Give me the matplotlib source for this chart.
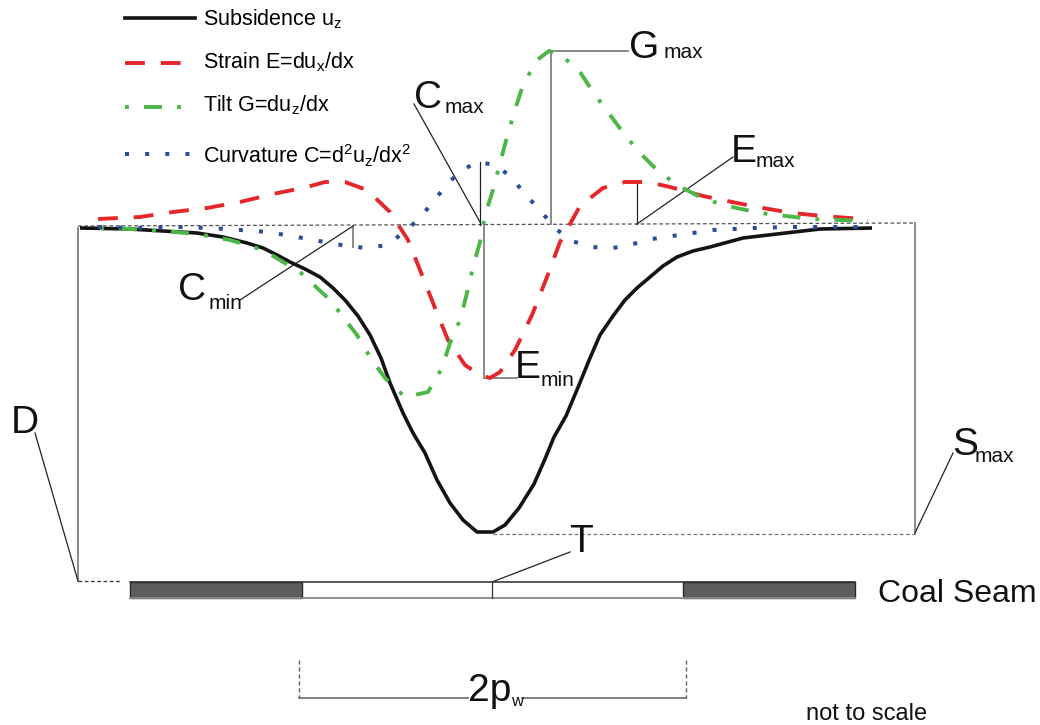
# -*- coding: utf-8 -*-
'''
Subsidence profile sketch
-------------------------
Schematic of subsidence, strain, tilt and curvature over a longwall panel.
Coordinates are read off the original drawing (pixels, y pointing down).
'''

import matplotlib.pyplot as plt
from matplotlib.patches import Rectangle

plt.rcParams['font.family'] = ['Liberation Sans', 'DejaVu Sans']
plt.rcParams['mathtext.fontset'] = 'custom'
plt.rcParams['mathtext.rm'] = 'Liberation Sans'
plt.rcParams['mathtext.it'] = 'Liberation Sans'

### curves
subs_x = [80, 130, 163, 197, 223, 247, 263, 277, 290, 305, 320, 333, 345, 358, 370,
          381, 390, 403, 413, 425, 437, 450, 463, 477, 493, 505, 519, 534, 545, 554,
          566, 579, 590, 600, 613, 625, 637, 650, 663, 677, 693, 710, 743, 777, 820, 872]
subs_y = [228, 229, 231, 233, 237, 243, 248, 255, 262, 269, 277, 288, 300, 316, 335,
          358, 383, 413, 433, 453, 480, 503, 520, 532, 532, 525, 508, 484, 459, 437,
          416, 385, 358, 335, 316, 300, 288, 277, 266, 257, 251, 247, 238, 234, 229, 228]

strain_x = [98, 140, 173, 207, 240, 273, 307, 325, 345, 367, 390, 408, 422, 435, 448,
            465, 480, 490, 500, 515, 532, 547, 560, 580, 603, 625, 648, 670, 703, 737,
            757, 792, 823, 862]
strain_y = [219, 217, 212, 208, 202, 194, 187, 182, 182, 190, 212, 240, 275, 308, 340,
            365, 375, 378, 372, 350, 315, 277, 242, 206, 188, 182, 182, 187, 196, 203,
            207, 213, 216, 219]

tilt_x = [100, 130, 163, 197, 230, 263, 300, 330, 357, 370, 385, 405, 428, 442, 450,
          460, 467, 473, 480, 485, 493, 500, 507, 515, 523, 537, 549, 560, 580, 593,
          610, 625, 640, 657, 677, 700, 723, 760, 812, 868]
tilt_y = [228, 229, 231, 234, 240, 250, 272, 300, 335, 357, 378, 397, 392, 368, 343,
          320, 293, 267, 242, 215, 190, 163, 137, 110, 85, 60, 51, 54, 72, 92,
          115, 135, 153, 170, 185, 197, 205, 213, 219, 221]

curv_x = [98, 140, 185, 227, 268, 308, 347, 367, 387, 403, 419, 432, 445, 459, 477,
          496, 512, 524, 538, 556, 572, 591, 613, 633, 652, 672, 693, 713, 755, 788,
          832, 870]
curv_y = [227, 228, 227, 229, 232, 239, 246, 248, 245, 233, 219, 203, 187, 172, 162,
          165, 178, 193, 208, 229, 241, 247, 248, 244, 239, 236, 233, 230, 228, 227,
          227, 227]

legend_labels = [r'Subsidence u$_\mathregular{z}$',
                 r'Strain E=du$_\mathregular{x}$/dx',
                 r'Tilt G=du$_\mathregular{z}$/dx',
                 r'Curvature C=d$^\mathregular{2}$u$_\mathregular{z}$/dx$^\mathregular{2}$']

### styles
RED = '#e5272b'
GREEN = '#4cb748'
BLUE = '#2b4c9b'
BLACK = '#141414'
styles = [dict(color=BLACK, lw=2.6, ls='-'),
          dict(color=RED, lw=2.8, ls=(0, (5.1, 4.1))),
          dict(color=GREEN, lw=2.8, ls=(0, (1, 3.9, 4.6, 3.9))),
          dict(color=BLUE, lw=2.9, ls=(0, (1, 4)))]

fig = plt.figure(figsize=(10.4, 7.25), dpi=100)
ax = fig.add_axes([0, 0, 1, 1])
ax.set_xlim(0, 1040)
ax.set_ylim(725, 0)
ax.axis('off')

curves = [(subs_x, subs_y), (strain_x, strain_y), (tilt_x, tilt_y), (curv_x, curv_y)]
zorders = [3, 4, 5, 6]
for (cx, cy), st, z in zip(curves, styles, zorders):
    ax.plot(cx, cy, solid_capstyle='butt', dash_capstyle='butt', zorder=z, **st)

### legend drawn by hand
leg_line_y = [18, 63, 107, 154]
leg_text_y = [25, 68, 111, 163]
for ly, ty, st, lab in zip(leg_line_y, leg_text_y, styles, legend_labels):
    ax.plot([125, 195], [ly, ly], dash_capstyle='butt', **st)
    ax.text(203, ty, lab, fontsize=15.5, va='baseline', ha='left')

### reference lines
thin = dict(color='#222222', lw=0.9)
grey = dict(color='#8a8a8a', lw=1.4)
ax.plot([78, 916], [226, 223], color='#555555', lw=0.9, ls=(0, (3, 2)), zorder=1)
ax.plot([493, 915], [534, 534], color='#777777', lw=0.9, ls=(0, (3, 2)), zorder=1)
ax.plot([78, 78], [228, 581], color='#777777', lw=1.2)
ax.plot([78, 121], [581, 581], color='#333333', lw=0.9, ls=(0, (3, 2)))
ax.plot([915, 915], [223, 533], **grey)

### leader lines for labels
ax.plot([353, 353], [226, 247], **grey)
ax.plot([240, 353], [300, 226], **thin)
ax.plot([480, 480], [162, 225], **thin)
ax.plot([414, 480], [104, 222], **thin)
ax.plot([484, 484], [225, 378], **grey)
ax.plot([484, 517], [378, 378], **grey)
ax.plot([551, 551], [224, 51], **grey)
ax.plot([551, 628], [51, 51], **grey)
ax.plot([637, 637], [182, 224], **thin)
ax.plot([637, 733], [224, 157], **thin)
ax.plot([35, 78], [433, 581], **thin)
ax.plot([915, 953], [533, 453], **thin)
ax.plot([492, 570], [582, 552], **thin)

### big labels with subscripts
big = 28
small = 15
labels = [('C', 'max', 414, 108, 445, 113),
          ('G', 'max', 629, 58, 664, 58),
          ('E', 'max', 731, 162, 756, 167),
          ('E', 'min', 515, 378, 541, 386),
          ('C', 'min', 178, 300, 209, 309),
          ('D', '', 11, 433, 0, 0),
          ('S', 'max', 952, 455, 975, 462),
          ('T', '', 569, 552, 0, 0)]
for main, sub, mx, my, sx, sy in labels:
    ax.text(mx, my, main, fontsize=big, va='baseline', ha='left', color='#111111')
    if sub:
        ax.text(sx, sy, sub, fontsize=small, va='baseline', ha='left', color='#111111')

### coal seam
seam_top = 582
seam_h = 16
ax.add_patch(Rectangle((302, seam_top), 381, seam_h, facecolor='white',
                       edgecolor='none', zorder=2))
for x0 in [130, 683]:
    ax.add_patch(Rectangle((x0, seam_top), 172, seam_h, facecolor='#5e5d5b',
                           edgecolor='#2a2a2a', lw=1.0, zorder=3))
ax.plot([130, 855], [seam_top, seam_top], color='#2a2a2a', lw=1.1, zorder=4)
ax.plot([130, 855], [seam_top + seam_h, seam_top + seam_h], color='#8a8a8a', lw=1.3, zorder=4)
ax.plot([492, 492], [seam_top, seam_top + seam_h], color='#333333', lw=0.9, zorder=4)
ax.text(878, 602, 'Coal Seam', fontsize=23, va='baseline', ha='left', color='#111111')

### panel width
ax.plot([299, 299], [660, 698], color='#666666', lw=1.0, ls=(0, (3, 2)))
ax.plot([686, 686], [660, 698], color='#666666', lw=1.0, ls=(0, (3, 2)))
ax.plot([299, 468], [698, 698], color='#777777', lw=1.3)
ax.plot([522, 686], [698, 698], color='#777777', lw=1.3)
ax.text(468, 701, '2p', fontsize=28, va='baseline', ha='left', color='#111111')
ax.text(511, 706, 'w', fontsize=12, va='baseline', ha='left', color='#111111')

ax.text(806, 720, 'not to scale', fontsize=17, va='baseline', ha='left', color='#111111')

fig.savefig('out.png', dpi=100)
